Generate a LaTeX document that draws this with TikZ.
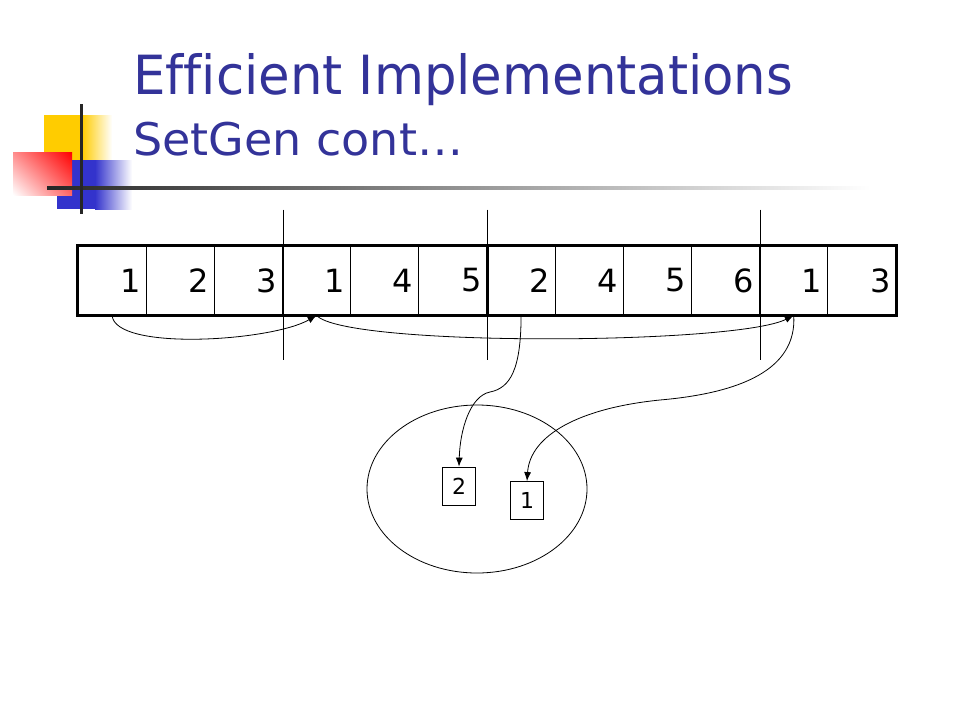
\documentclass[tikz,border=0pt]{standalone}
\usepackage{graphicx}
\usepackage{fontspec}
\setmainfont{DejaVu Sans}
\usetikzlibrary{arrows.meta,shapes.geometric,shadings}
\definecolor{titleblue}{RGB}{51,51,153}
\definecolor{logoyellow}{RGB}{255,204,0}
\definecolor{logored}{RGB}{255,0,0}
\definecolor{logoblue}{RGB}{51,51,204}
\tikzset{
  cell/.style={draw, line width=0.8pt, minimum width=68.17pt, minimum height=69pt,
    text width=57pt, align=right, inner sep=0pt, font=\fontsize{32}{32}\selectfont},
  box/.style={draw, line width=0.8pt, minimum width=33pt, minimum height=38pt,
    inner sep=0pt, font=\fontsize{22}{22}\selectfont},
  marker/.style={line width=0.8pt},
  groupline/.style={line width=2.2pt},
  arr/.style={line width=0.8pt, -{Latex[length=9pt,width=7pt]}},
  titletext/.style={anchor=base west, inner sep=0pt, text=titleblue}
}
\begin{document}
\begin{tikzpicture}[x=1pt,y=-1pt]
\useasboundingbox (0,0) rectangle (960,720);
% logo
\fill[logoyellow] (44,115) rectangle (82,160);
\shade[left color=logoyellow, right color=white] (82,115) rectangle (112,160);
\fill[logoblue] (57,160) rectangle (95,209);
\shade[left color=logoblue, right color=white] (95,160) rectangle (132,209);
\shade[upper right=logored, lower left=white, upper left=logored!45!white, lower right=logored!60!white] (13,152) rectangle (72,195);
\shade[left color=black!85, right color=white] (47,186) rectangle (870,189.5);
\fill[black!85] (79.5,104) rectangle (82.5,214);
% title
\node[titletext, font=\fontsize{54}{54}\selectfont] (title) at (133,94) {\resizebox{660pt}{\height}{Ef\kern0pt f\kern0pt icient Implementations}};
\node[titletext, font=\fontsize{45}{45}\selectfont] (subtitle) at (133,155) {\resizebox{330pt}{\height}{SetGen cont…}};
% array
\foreach \v [count=\i] in {1,2,3,1,4,5,2,4,5,6,1,3}
  \node[cell] (c\i) at ({78+68.1667*(\i-0.5)},280.5) {\v};
\draw[line width=3pt] (c1.north west) rectangle (c12.south east);
\foreach \k in {3,6,10}{
  \draw[groupline] (c\k.north east) -- (c\k.south east);
  \draw[marker] ([yshift=36pt]c\k.north east) -- ([yshift=-45pt]c\k.south east);
}
% set
\node[ellipse, draw, line width=0.8pt, minimum width=220pt, minimum height=168pt] (set) at (477,489) {};
\node[box] (b2) at (459,486) {2};
\node[box] (b1) at (527,500.5) {1};
% arrows
\draw[arr] (c1.south) .. controls +(3,36) and +(-45,26) .. (c4.south);
\draw[arr] (c4.south) .. controls (345,347) and (735,345) .. (c11.south);
\draw[arr] (c7.south) .. controls (521,370) and (510,388) .. (490,392) .. controls (470,396) and (460,430) .. (b2.north);
\draw[arr] (c11.south) .. controls (797,370) and (740,393) .. (660,400) .. controls (580,408) and (530,435) .. (b1.north);
\end{tikzpicture}
\end{document}
